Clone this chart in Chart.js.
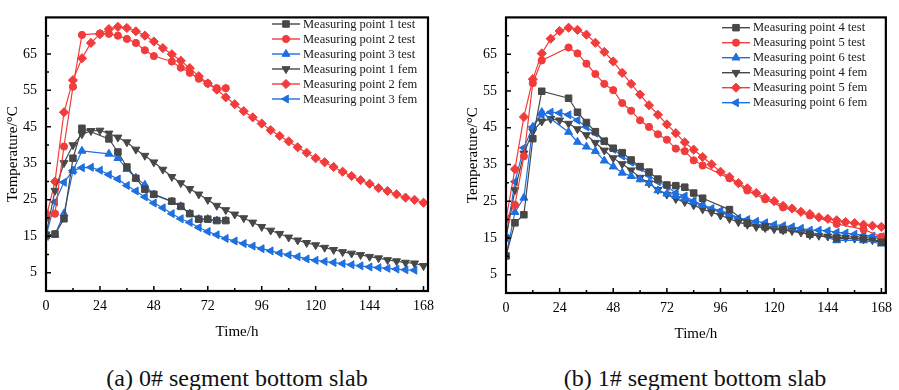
<!DOCTYPE html>
<html>
<head>
<meta charset="utf-8">
<script src="https://cdn.jsdelivr.net/npm/chart.js@4.4.0/dist/chart.umd.min.js"></script>
<style>
  body { margin: 0; background: #fff; width: 899px; height: 390px; position: relative; overflow: hidden; font-family: "Liberation Serif", "Times New Roman", serif; }
  canvas { position: absolute; top: 0; }
  #chartA { left: 0; }
  #chartB { left: 460px; }
  .caption { position: absolute; top: 366px; font-size: 24px; line-height: 24px; color: #111; white-space: nowrap; transform: translateX(-50%); }
</style>
</head>
<body>
<canvas id="chartA" width="450" height="345"></canvas>
<canvas id="chartB" width="439" height="347"></canvas>
<div class="caption" style="left:237px">(a) 0# segment bottom slab</div>
<div class="caption" style="left:695px">(b) 1# segment bottom slab</div>
<script>
// tick labels
const xTicks = [0, 24, 48, 72, 96, 120, 144, 168];
const xMinor = [12, 36, 60, 84, 108, 132, 156];
const yTicks = [5, 15, 25, 35, 45, 55, 65];
const yMinor = [10, 20, 30, 40, 50, 60, 70];

// FEM output every 4 h
const femTimes = [0, 4, 8, 12, 16, 20, 24, 28, 32, 36, 40, 44, 48, 52, 56, 60, 64, 68, 72, 76, 80, 84,
  88, 92, 96, 100, 104, 108, 112, 116, 120, 124, 128, 132, 136, 140, 144, 148, 152, 156, 160, 164, 168];
const femTimesShort = femTimes.slice(0, 42);

// (a) 0# segment
const testTimesA = [0, 4, 8, 12, 16, 28, 32, 36, 40, 44, 48, 56, 60, 64, 68, 72, 76, 80];
const testTimesA2 = [0, 4, 8, 12, 16, 24, 28, 32, 36, 40, 44, 48, 56, 60, 64, 68, 72, 76, 80];
const mp1Test = [15.3, 15.6, 19.8, 36.4, 44.6, 41.7, 38.1, 34.0, 30.9, 27.9, 26.5, 24.6, 23.2, 21.2, 19.7, 19.7, 19.3, 19.3];
const mp2Test = [21.2, 21.2, 39.6, 56.0, 70.2, 70.6, 70.5, 70.0, 69.1, 68.0, 66.0, 64.4, 62.9, 61.2, 59.8, 58.2, 56.9, 55.6, 55.6];
const mp3Test = [15.0, 15.4, 21.2, 33.0, 38.4, 37.6, 36.4, 33.4, 31.0, 29.1, 26.4, 24.5, 23.2, 21.2, 19.7, 19.7, 19.3, 19.3];
const mp1Fem = [15.5, 27.5, 35.1, 40.0, 43.0, 43.9, 44.0, 43.2, 42.1, 40.8, 38.8, 37.1, 35.3, 33.3, 31.3, 29.6, 28.0, 26.5, 25.0, 23.4, 22.2, 21.0,
  20.0, 18.8, 17.6, 16.6, 15.7, 14.7, 13.9, 13.2, 12.6, 11.9, 11.3, 10.7, 10.3, 9.9, 9.4, 9.0, 8.5, 8.2, 7.8, 7.6, 6.9];
const mp2Fem = [20.0, 30.0, 49.0, 57.8, 63.8, 68.0, 70.4, 71.8, 72.4, 72.1, 71.2, 70.0, 68.4, 66.6, 64.9, 63.1, 61.1, 58.9, 56.9, 55.2, 53.1, 51.2,
  49.3, 47.6, 45.9, 44.1, 42.5, 41.0, 39.4, 37.9, 36.4, 35.3, 34.0, 32.7, 31.5, 30.4, 29.4, 28.2, 27.4, 26.5, 25.6, 25.0, 24.2];
const mp3Fem = [15.0, 24.4, 29.8, 33.0, 33.8, 33.9, 33.1, 31.9, 30.7, 28.9, 27.4, 25.8, 24.1, 22.8, 21.2, 19.8, 18.8, 17.4, 16.3, 15.4, 14.4, 13.7,
  13.0, 12.3, 11.6, 11.0, 10.4, 9.9, 9.4, 8.8, 8.4, 8.1, 7.8, 7.5, 7.2, 6.9, 6.6, 6.4, 6.2, 6.0, 5.8, 5.7];

// (b) 1# segment
const testTimesB = [0, 4, 8, 12, 16, 28, 32, 36, 40, 44, 48, 52, 56, 60, 64, 68, 72, 76, 80, 84, 88, 100, 108, 116, 124, 136, 148, 160, 168];
const mp4Test = [10.1, 19.1, 21.3, 42.0, 54.9, 53.0, 49.2, 46.4, 43.9, 41.3, 39.4, 38.2, 36.2, 34.4, 32.9, 31.0, 29.4, 29.2, 28.8, 27.2, 25.8,
  22.7, 19.0, 18.0, 17.2, 16.0, 14.8, 14.8, 13.8];
const mp5Test = [20.0, 24.0, 37.2, 57.1, 63.3, 66.8, 65.2, 62.4, 59.6, 56.9, 55.2, 51.7, 49.6, 47.0, 45.2, 43.2, 41.7, 39.3, 38.6, 36.1, 34.7,
  31.2, 27.9, 25.5, 23.3, 21.1, 18.8, 17.3, 15.3];
const mp6Test = [10.1, 22.0, 25.9, 45.2, 49.2, 43.8, 41.1, 39.8, 38.6, 36.0, 34.4, 32.7, 31.8, 30.9, 29.9, 27.9, 27.0, 26.4, 25.6, 24.8, 23.9,
  21.5, 19.5, 18.2, 17.5, 16.5, 14.3, 14.3, 13.4];
const mp4Fem = [15.0, 28.0, 38.0, 44.0, 46.7, 47.4, 47.0, 46.1, 44.6, 43.0, 40.9, 38.8, 36.7, 35.1, 33.4, 31.4, 29.9, 28.1, 26.8, 25.6, 24.8, 23.9,
  22.8, 22.0, 21.1, 20.2, 19.3, 18.6, 18.0, 17.7, 17.4, 17.1, 16.9, 16.5, 15.8, 15.6, 15.4, 15.2, 15.0, 14.8, 14.6, 14.4, 14.2];
const mp5Fem = [20.0, 33.7, 47.9, 58.2, 65.2, 69.2, 71.3, 72.2, 71.6, 70.3, 68.1, 65.6, 63.0, 59.9, 56.9, 54.0, 51.1, 48.5, 45.9, 43.5, 41.0, 39.0,
  37.0, 35.0, 33.0, 31.6, 29.9, 28.5, 27.2, 25.9, 25.0, 23.7, 23.0, 22.1, 21.5, 20.6, 20.2, 19.8, 19.3, 19.0, 18.6, 18.3, 18.0];
const mp6Fem = [15.0, 30.3, 39.5, 45.2, 48.5, 49.2, 49.0, 48.5, 47.0, 45.2, 43.5, 41.3, 39.1, 37.3, 35.6, 34.1, 32.0, 30.3, 29.0, 27.2, 26.4, 25.0,
  23.9, 23.0, 22.4, 21.5, 20.4, 20.0, 19.5, 19.1, 18.6, 18.3, 18.0, 17.6, 17.1, 17.1, 16.9, 16.5, 16.3, 16.0, 15.7, 15.5, 15.3];

const GRAY = '#474747';
const RED = '#f23c3c';
const BLUE = '#1e6fe0';
const FONT = '"Liberation Serif", "Times New Roman", serif';

function pairs(xs, ys) {
  return ys.map((v, i) => ({ x: xs[i], y: v }));
}

function series(label, xs, ys, color, style, rotation) {
  return {
    label: label,
    data: pairs(xs, ys),
    borderColor: color,
    backgroundColor: color,
    borderWidth: 1.2,
    pointStyle: style,
    rotation: rotation || 0,
    pointRadius: style == 'circle' ? 3.6 : 4.6,
    pointBorderWidth: 1,
    pointBackgroundColor: color,
    pointBorderColor: color,
    tension: 0
  };
}

// box, inward ticks and the legend
const framePlugin = {
  id: 'frame',
  afterDraw(chart, args, opts) {
    const ctx = chart.ctx;
    const a = chart.chartArea;
    const x = chart.scales.x, y = chart.scales.y;
    ctx.save();
    ctx.strokeStyle = '#000';
    ctx.lineWidth = 1.5;
    ctx.beginPath();
    xTicks.forEach(v => { const p = x.getPixelForValue(v); ctx.moveTo(p, a.bottom); ctx.lineTo(p, a.bottom - 5); });
    xMinor.forEach(v => { const p = x.getPixelForValue(v); ctx.moveTo(p, a.bottom); ctx.lineTo(p, a.bottom - 3); });
    yTicks.forEach(v => { const p = y.getPixelForValue(v); ctx.moveTo(a.left, p); ctx.lineTo(a.left + 5, p); });
    yMinor.forEach(v => { const p = y.getPixelForValue(v); ctx.moveTo(a.left, p); ctx.lineTo(a.left + 3, p); });
    ctx.stroke();
    ctx.lineWidth = 2.2;
    ctx.strokeRect(a.left, a.top, a.right - a.left, a.bottom - a.top);

    // legend
    ctx.font = '12.5px ' + FONT;
    ctx.textBaseline = 'middle';
    chart.data.datasets.forEach((ds, i) => {
      const ly = opts.y + i * 15;
      const lx = opts.x;
      ctx.strokeStyle = ds.borderColor;
      ctx.lineWidth = 1.4;
      ctx.beginPath();
      ctx.moveTo(lx, ly);
      ctx.lineTo(lx + 28, ly);
      ctx.stroke();
      ctx.fillStyle = ds.borderColor;
      ctx.lineWidth = 1;
      Chart.helpers.drawPoint(ctx, { pointStyle: ds.pointStyle, rotation: ds.rotation, radius: ds.pointRadius, borderWidth: 1 }, lx + 14, ly);
      ctx.fillStyle = '#1a1a1a';
      ctx.fillText(ds.label, lx + 31, ly + 0.5);
    });
    ctx.restore();
  }
};

function makeOptions(legendX, legendY, padTop, padRight) {
  return {
    responsive: false,
    animation: false,
    layout: { padding: { top: padTop, right: padRight, left: 0, bottom: 0 } },
    plugins: {
      legend: { display: false },
      tooltip: { enabled: false },
      frame: { x: legendX, y: legendY }
    },
    scales: {
      x: {
        type: 'linear', min: 0, max: 170,
        afterBuildTicks: axis => { axis.ticks = xTicks.map(v => ({ value: v })); },
        grid: { display: false, drawTicks: false },
        border: { display: false },
        ticks: { color: '#000', font: { family: FONT, size: 14 }, padding: 7, maxRotation: 0, autoSkip: false },
        title: { display: true, text: 'Time/h', color: '#000', font: { family: FONT, size: 15 }, padding: { top: 0, bottom: 4 } },
        afterFit: axis => { axis.height = 54; }
      },
      y: {
        min: 0, max: 75,
        afterBuildTicks: axis => { axis.ticks = yTicks.map(v => ({ value: v })); },
        grid: { display: false, drawTicks: false },
        border: { display: false },
        ticks: { color: '#000', font: { family: FONT, size: 14 }, padding: 9 },
        title: { display: true, text: 'Temperature/°C', color: '#000', font: { family: FONT, size: 15 }, padding: { top: 4, bottom: 0 } },
        afterFit: axis => { axis.width = 46; }
      }
    }
  };
}

new Chart(document.getElementById('chartA'), {
  type: 'line',
  data: {
    datasets: [
      series('Measuring point 1 test', testTimesA, mp1Test, GRAY, 'rect', 0),
      series('Measuring point 2 test', testTimesA2, mp2Test, RED, 'circle', 0),
      series('Measuring point 3 test', testTimesA, mp3Test, BLUE, 'triangle', 0),
      series('Measuring point 1 fem', femTimes, mp1Fem, GRAY, 'triangle', 180),
      series('Measuring point 2 fem', femTimes, mp2Fem, RED, 'rectRot', 0),
      series('Measuring point 3 fem', femTimesShort, mp3Fem, BLUE, 'triangle', 270)
    ]
  },
  options: makeOptions(272, 24, 7, 22),
  plugins: [framePlugin]
});

new Chart(document.getElementById('chartB'), {
  type: 'line',
  data: {
    datasets: [
      series('Measuring point 4 test', testTimesB, mp4Test, GRAY, 'rect', 0),
      series('Measuring point 5 test', testTimesB, mp5Test, RED, 'circle', 0),
      series('Measuring point 6 test', testTimesB, mp6Test, BLUE, 'triangle', 0),
      series('Measuring point 4 fem', femTimes, mp4Fem, GRAY, 'triangle', 180),
      series('Measuring point 5 fem', femTimes, mp5Fem, RED, 'rectRot', 0),
      series('Measuring point 6 fem', femTimes, mp6Fem, BLUE, 'triangle', 270)
    ]
  },
  options: makeOptions(262, 27.7, 8, 10),
  plugins: [framePlugin]
});
</script>
</body>
</html>
